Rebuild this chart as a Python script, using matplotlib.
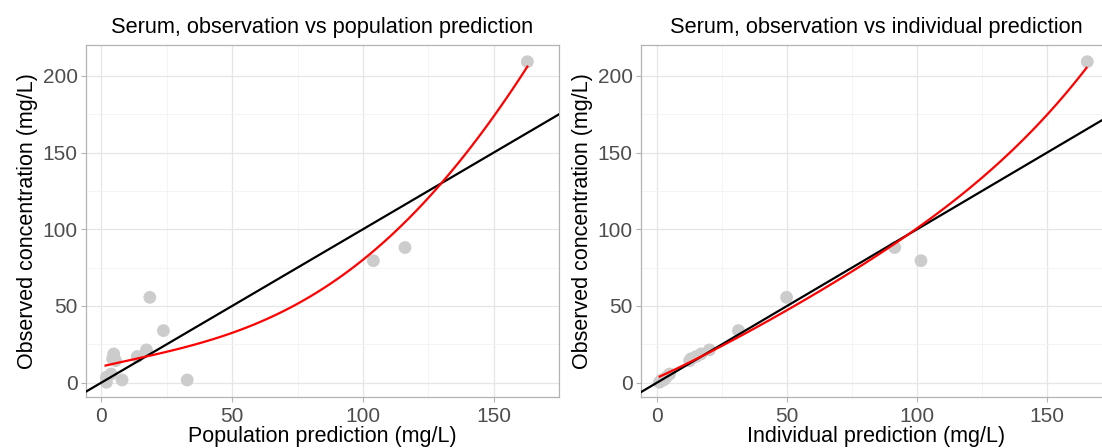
import numpy as np
import matplotlib
matplotlib.use("Agg")
import matplotlib.pyplot as plt

plt.rcParams['font.family'] = ['Liberation Sans', 'DejaVu Sans']

# observed serum concentrations (mg/L)
observed = [209.3, 88.1, 79.5, 55.6, 33.9, 21.3, 18.7, 17.0, 15.6, 14.3,
            5.6, 3.5, 1.7, 1.7, 0.2]
# population predictions, same order
pop_pred = [162.9, 116.1, 104.0, 18.5, 23.7, 17.2, 4.7, 13.7, 4.3, 5.4,
            3.7, 1.9, 7.9, 32.8, 1.9]
# individual predictions, same order
ind_pred = [165.5, 91.4, 101.5, 49.8, 31.3, 20.1, 16.9, 15.0, 13.1, 12.5,
            4.8, 3.5, 1.7, 2.5, 0.9]

# red trend curves
pop_smooth_x = [1.6, 14.3, 24.3, 36.8, 49.9, 61.8, 74.3, 86.7, 99.3, 111.7,
                131.1, 151.7, 162.9]
pop_smooth_y = [11.1, 15.4, 20.8, 25.6, 31.7, 39.9, 50.2, 64.3, 80.6, 96.9,
                130.5, 179.4, 205.4]
ind_smooth_x = [1.0, 12.5, 22.7, 35.4, 48.1, 60.8, 73.6, 86.3, 99.0, 111.7,
                128.2, 149.9, 165.2]
ind_smooth_y = [3.5, 13.2, 23.0, 33.9, 45.2, 56.7, 69.7, 84.9, 102.3, 116.0,
                136.0, 175.0, 205.4]

xticks = [0, 50, 100, 150]
yticks = [0, 50, 100, 150, 200]

W, H = 1102, 448
fig = plt.figure(figsize=(W / 100, H / 100), dpi=100)


def smooth(sx, sy, deg=4):
    # smooth the read-off trend so it isn't a jagged polyline
    c = np.polyfit(sx, sy, deg)
    xs = np.linspace(min(sx), max(sx), 100)
    return xs, np.polyval(c, xs)


def panel(rect, xs, sx, sy, title, xlabel, xlim):
    ax = fig.add_axes([rect[0] / W, 1 - rect[3] / H,
                       (rect[2] - rect[0]) / W, (rect[3] - rect[1]) / H])
    ax.set_xlim(*xlim)
    ax.set_ylim(-9.4, 220.2)
    ax.set_xticks(xticks)
    ax.set_yticks(yticks)
    ax.set_xticks([25, 75, 125, 175], minor=True)
    ax.set_yticks([25, 75, 125, 175], minor=True)
    ax.grid(which='major', color='#E6E6E6', linewidth=0.9, zorder=0)
    ax.grid(which='minor', color='#F2F2F2', linewidth=0.6, zorder=0)
    ax.tick_params(which='minor', length=0)
    ax.tick_params(which='major', length=3.5, width=0.8, color='#B3B3B3',
                   labelcolor='#4D4D4D', labelsize=15)
    ax.tick_params(axis='x', pad=3.5)
    ax.tick_params(axis='y', pad=2.5)
    for s in ax.spines.values():
        s.set_color('#B3B3B3')
        s.set_linewidth(0.9)
    ax.set_axisbelow(True)

    ax.scatter(xs, observed, s=85, color='#CCCCCC', edgecolors='none',
               zorder=2)
    ax.axline((0, 0), slope=1, color='black', linewidth=1.6, zorder=3)
    cx, cy = smooth(sx, sy)
    ax.plot(cx, cy, color='red', linewidth=1.6, zorder=4)

    ax.set_title(title, fontsize=15.7, pad=9)
    ax.set_xlabel(xlabel, fontsize=15.5, labelpad=0)
    ax.set_ylabel('Observed concentration (mg/L)', fontsize=15.5,
                  labelpad=3.5)
    return ax


panel((86, 45, 559, 397), pop_pred, pop_smooth_x, pop_smooth_y,
      'Serum, observation vs population prediction',
      'Population prediction (mg/L)', (-5.9, 171.3))
panel((641, 45, 1112, 397), ind_pred, ind_smooth_x, ind_smooth_y,
      'Serum, observation vs individual prediction',
      'Individual prediction (mg/L)', (-6.2, 173.7))

fig.savefig('out.png', dpi=100)
